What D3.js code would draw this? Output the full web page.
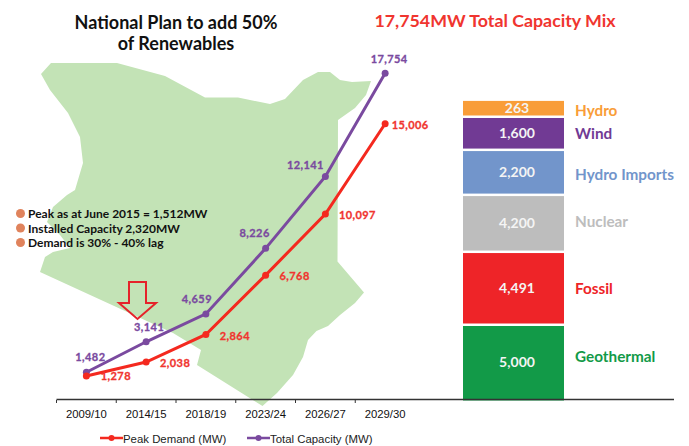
<!DOCTYPE html>
<html>
<head>
<meta charset="utf-8">
<script src="https://cdn.jsdelivr.net/npm/d3@7"></script>
<style>
  body { margin: 0; background: #fff; }
  svg { display: block; }
  text { font-family: Lato, sans-serif; }
</style>
</head>
<body>
<div id="chart"></div>
<script>
const width = 689;
const height = 446;

const years = ["2009/10", "2014/15", "2018/19", "2023/24", "2026/27", "2029/30"];

const totalCapacity = [1482, 3141, 4659, 8226, 12141, 17754];
const totalLabels = ["1,482", "3,141", "4,659", "8,226", "12,141", "17,754"];

// the 2018/19 peak point sits higher in the picture than its printed 2,864
const peakDemand = [1278, 2038, 3540, 6768, 10097, 15006];
const peakLabels = ["1,278", "2,038", "2,864", "6,768", "10,097", "15,006"];

// top to bottom. The blocks in the picture are not to scale, so mixDrawn is
// what each block measures on the chart's y scale, mixLabels is what it says
const mixNames = ["Hydro", "Wind", "Hydro Imports", "Nuclear", "Fossil", "Geothermal"];
const mixLabels = ["263", "1,600", "2,200", "4,200", "4,491", "5,000"];
const mixDrawn = [930, 1800, 2450, 3100, 3970, 4000];
const mixColors = ["#f99d38", "#713a94", "#7295cb", "#bdbdbd", "#ee2428", "#129a48"];

const notes = ["Peak as at June 2015 = 1,512MW", "Installed Capacity 2,320MW", "Demand is 30% - 40% lag"];

// outline of the map behind the lines, in page pixels
const mapOutline = [
  [41,74],[51,63],[117,63],[165,76],[205,97.5],[238,97.5],[270,104],[285,99],
  [303,80],[318,72],[330,72],[340,80],[352,82],[371,81],[366,95],[355,108],[338,120],
  [337.5,261.5],[364,292.5],[355,303],[340,315],[328,326],[316.5,331],[308,340],
  [303,357],[293,375],[277,393],[262.5,406],[197,365],[201,350],[173,333],[40,272],
  [45,257],[53,252],[70,248],[60,235],[47,222],[53,207],[67,195],[75,190],
  [83,163],[80,137],[68,113],[50,90]
];

const red = "#f4291f";
const purple = "#7a4a9f";

const xScale = d3.scaleBand()
  .domain(years)
  .range([56.5, 415]);

const yScale = d3.scaleLinear()
  .domain([0, 18000])
  .range([399.5, 68.75]);

const cx = d => xScale(d) + xScale.bandwidth() / 2;

let svg = d3.select("#chart")
  .append("svg")
  .attr("width", width)
  .attr("height", height);

svg.append("path")
  .attr("d", d3.line()(mapOutline))
  .attr("fill", "#c3e3b6");

// titles
svg.selectAll(".title")
  .data(["National Plan to add 50%", "of Renewables"])
  .enter().append("text")
  .attr("x", 176)
  .attr("y", (d, i) => 29 + i * 21)
  .attr("text-anchor", "middle")
  .attr("font-size", 18)
  .attr("font-weight", 700)
  .attr("fill", "#111")
  .text(d => d);

svg.append("text")
  .attr("x", 495)
  .attr("y", 27)
  .attr("text-anchor", "middle")
  .attr("font-size", 17.8)
  .attr("font-weight", 700)
  .attr("fill", "#f0352f")
  .text("17,754MW Total Capacity Mix");

// notes
svg.selectAll(".note")
  .data(notes)
  .enter().append("text")
  .attr("x", 28)
  .attr("y", (d, i) => 218 + i * 14.5)
  .attr("font-size", 12)
  .attr("font-weight", 700)
  .attr("fill", "#111")
  .text(d => d);

svg.selectAll(".bullet")
  .data(notes)
  .enter().append("circle")
  .attr("cx", 20.5)
  .attr("cy", (d, i) => 213.5 + i * 14.5)
  .attr("r", 4.5)
  .attr("fill", "#e0835c");

// down arrow
svg.append("path")
  .attr("d", "M129,282H146V303H156L137.5,319L119,303H129Z")
  .attr("fill", "none")
  .attr("stroke", "#e5232a")
  .attr("stroke-width", 2);

// lines
const line = d3.line()
  .x((d, i) => cx(years[i]))
  .y(d => yScale(d));

function drawSeries(values, color) {
  svg.append("path")
    .attr("d", line(values))
    .attr("fill", "none")
    .attr("stroke", color)
    .attr("stroke-width", 3);

  svg.selectAll(null)
    .data(values)
    .enter().append("circle")
    .attr("cx", (d, i) => cx(years[i]))
    .attr("cy", d => yScale(d))
    .attr("r", 3.5)
    .attr("fill", color);
}

drawSeries(totalCapacity, purple);
drawSeries(peakDemand, red);

// value labels, offset from each point
const totalOffsets = [[4, -11], [3, -10.5], [-9, -10.5], [-11, -11], [-20, -7], [4, -10]];
const peakOffsets = [[29.5, 4], [29, 5], [29, 6], [29, 5], [32, 5], [25, 5]];

function drawLabels(labels, values, offsets, color) {
  svg.selectAll(null)
    .data(labels)
    .enter().append("text")
    .attr("x", (d, i) => cx(years[i]) + offsets[i][0])
    .attr("y", (d, i) => yScale(values[i]) + offsets[i][1])
    .attr("text-anchor", "middle")
    .attr("font-size", 11)
    .attr("font-weight", 700)
    .attr("letter-spacing", 0.4)
    .attr("stroke", color)
    .attr("stroke-width", 0.3)
    .attr("fill", color)
    .text(d => d);
}

drawLabels(totalLabels, totalCapacity, totalOffsets, purple);
drawLabels(peakLabels, peakDemand, peakOffsets, "#f0352f");

// capacity mix blocks, stacked down from the top of the column
let mixStack = d3.cumsum(mixDrawn.slice().reverse()).reverse();
const blockHeight = i => yScale(0) - yScale(mixDrawn[i]) - 2.5;
const blockMiddle = i => yScale(mixStack[i]) + blockHeight(i) / 2;
// the names do not sit quite level with the numbers in the picture
const nameNudge = [2.5, 0.5, 2.5, -1, 1, -5];

svg.selectAll(".block")
  .data(mixNames)
  .enter().append("rect")
  .attr("x", 463)
  .attr("y", (d, i) => yScale(mixStack[i]))
  .attr("width", 101)
  .attr("height", (d, i) => blockHeight(i) + (i === mixNames.length - 1 ? 3.5 : 0))
  .attr("fill", (d, i) => mixColors[i]);

svg.selectAll(".block-value")
  .data(mixLabels)
  .enter().append("text")
  .attr("x", 517)
  .attr("y", (d, i) => blockMiddle(i) + 5)
  .attr("text-anchor", "middle")
  .attr("font-size", 14)
  .attr("font-weight", 700)
  .attr("fill", "#f4f4f4")
  .text(d => d);

svg.selectAll(".block-name")
  .data(mixNames)
  .enter().append("text")
  .attr("x", 575)
  .attr("y", (d, i) => blockMiddle(i) + 5 + nameNudge[i])
  .attr("font-size", 15.3)
  .attr("font-weight", 700)
  .attr("fill", (d, i) => mixColors[i])
  .text(d => d);

// x axis
const xAxis = svg.append("g")
  .attr("transform", "translate(0,400)")
  .call(d3.axisBottom(xScale).tickSize(0).tickPadding(10));
xAxis.select(".domain").remove();
xAxis.selectAll("text")
  .style("font-family", "'Liberation Sans', sans-serif")
  .attr("font-size", 11.3)
  .attr("fill", "#111");

svg.append("line")
  .attr("x1", 56.5).attr("x2", 674)
  .attr("y1", 399.5).attr("y2", 399.5)
  .attr("stroke", "#333")
  .attr("stroke-width", 1.3);

svg.selectAll(".tick-mark")
  .data(years)
  .enter().append("line")
  .attr("x1", d => xScale(d))
  .attr("x2", d => xScale(d))
  .attr("y1", 400)
  .attr("y2", 403)
  .attr("stroke", "#333");

// legend
const legend = [
  { name: "Peak Demand (MW)", color: red, x: 100 },
  { name: "Total Capacity (MW)", color: purple, x: 247 }
];

legend.forEach(d => {
  svg.append("line")
    .attr("x1", d.x).attr("x2", d.x + 23)
    .attr("y1", 438).attr("y2", 438)
    .attr("stroke", d.color)
    .attr("stroke-width", 2.5);
  svg.append("circle")
    .attr("cx", d.x + 11.5).attr("cy", 438)
    .attr("r", 3)
    .attr("fill", d.color);
  svg.append("text")
    .attr("x", d.x + 23)
    .attr("y", 443)
    .style("font-family", "'Liberation Sans', sans-serif")
    .attr("font-size", 11.4)
    .attr("fill", "#222")
    .text(d.name);
});
</script>
</body>
</html>
